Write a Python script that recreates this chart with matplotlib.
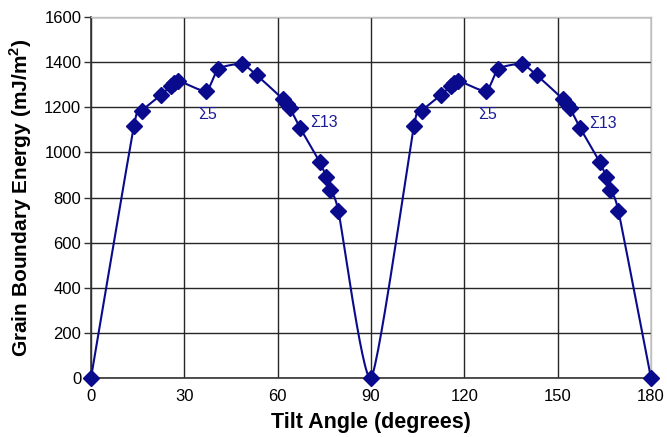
import numpy as np
import matplotlib.pyplot as plt

plt.rcParams['font.family'] = ['Liberation Sans', 'DejaVu Sans']
plt.rcParams['mathtext.fontset'] = 'custom'
plt.rcParams['mathtext.rm'] = 'Liberation Sans'
plt.rcParams['mathtext.bf'] = 'Liberation Sans:bold'

# tilt angle (deg) and grain boundary energy (mJ/m^2)
tilt = [0, 13.8, 16.3, 22.4, 25.6, 26.7, 28.1, 37.0, 40.9, 48.4, 53.3, 61.8, 62.9, 64.0,
        67.2, 73.6, 75.5, 76.8, 79.5, 90,
        103.8, 106.3, 112.4, 115.6, 116.7, 118.1, 127.0, 130.9, 138.4, 143.3, 151.8, 152.9,
        154.0, 157.2, 163.6, 165.5, 166.8, 169.5, 180]
energia = [0, 1117, 1184, 1253, 1294, 1306, 1318, 1272, 1370, 1392, 1342, 1235, 1214, 1195,
           1109, 956, 893, 833, 742, 0,
           1117, 1184, 1253, 1294, 1306, 1318, 1272, 1370, 1392, 1342, 1235, 1214,
           1195, 1109, 956, 893, 833, 742, 0]

rotulos = ['Σ5', 'Σ13', 'Σ5', 'Σ13']
rotulos_x = [37.6, 75.0, 127.6, 164.4]
rotulos_y = [1166, 1133, 1166, 1130]

xticks = [0, 30, 60, 90, 120, 150, 180]
yticks = [0, 200, 400, 600, 800, 1000, 1200, 1400, 1600]

cor = '#0a0a8c'


def curva_suave(x, y, sx, sy, k=10, n=30):
    # bezier suavizado calculado em coordenadas de tela
    px = np.asarray(x, float) * sx
    py = np.asarray(y, float) * sy
    P = np.column_stack([px, py])
    P = np.vstack([P[0], P, P[-1]])
    t = np.linspace(0, 1, n)[:, None]
    pts = []
    for i in range(1, len(P) - 2):
        p0, p1, p2, p3 = P[i - 1], P[i], P[i + 1], P[i + 2]
        b1 = p1 + (p2 - p0) / k
        b2 = p2 - (p3 - p1) / k
        seg = ((1 - t) ** 3) * p1 + 3 * ((1 - t) ** 2) * t * b1 + 3 * (1 - t) * t ** 2 * b2 + t ** 3 * p2
        pts.append(seg)
    pts = np.vstack(pts)
    return pts[:, 0] / sx, pts[:, 1] / sy


fig = plt.figure(figsize=(6.67, 4.37), dpi=100)
ax = fig.add_axes([0.1364, 0.135, 0.8396, 0.826])

cx, cy = curva_suave(tilt, energia, 560 / 180, 361 / 1600)
ax.plot(cx, cy, color=cor, lw=1.5, zorder=3, clip_on=False)
ax.plot(tilt, energia, 'D', color=cor, markersize=8.5, zorder=4, clip_on=False)

for txt, x, y in zip(rotulos, rotulos_x, rotulos_y):
    ax.text(x, y, txt, color='#1c1c96', fontsize=11.5, ha='center', va='center')

ax.set_xlim(0, 180)
ax.set_ylim(0, 1600)
ax.set_xticks(xticks)
ax.set_yticks(yticks)
ax.grid(True, color='#262626', lw=1.0)
ax.set_axisbelow(True)

ax.tick_params(axis='x', length=0, pad=8, labelsize=12)
ax.tick_params(axis='y', length=5, width=1, direction='out', pad=2, labelsize=12, color='#333333')

for s in ['left', 'bottom']:
    ax.spines[s].set_color('#333333')
    ax.spines[s].set_linewidth(1.2)
for s in ['top', 'right']:
    ax.spines[s].set_color('#bfbfbf')
    ax.spines[s].set_linewidth(1.0)

ax.set_xlabel('Tilt Angle (degrees)', fontsize=15.5, fontweight='bold', labelpad=6)
ax.set_ylabel(r'Grain Boundary Energy (mJ/m$^\mathbf{2}$)', fontsize=15, fontweight='bold', labelpad=7)

fig.savefig('out.png', dpi=100)
